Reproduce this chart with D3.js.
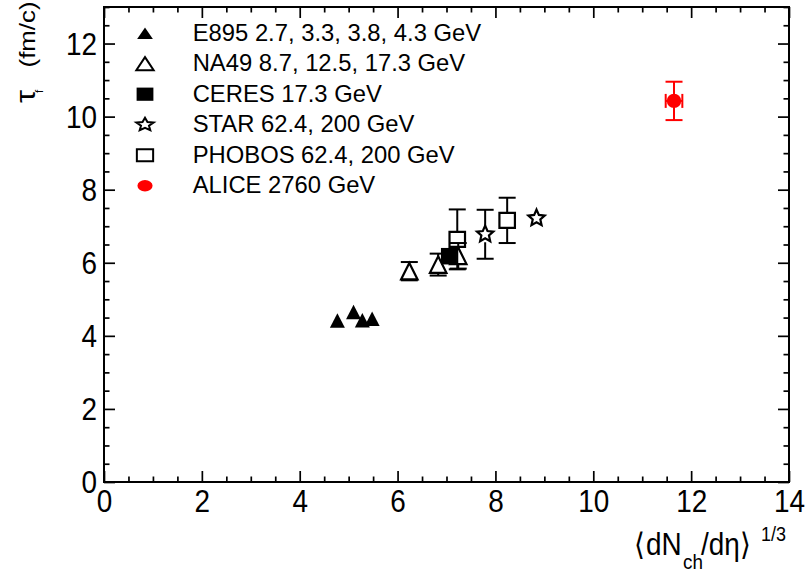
<!DOCTYPE html>
<html>
<head>
<meta charset="utf-8">
<script src="https://cdn.jsdelivr.net/npm/d3@7"></script>
<style>
  body { margin: 0; background: #fff; }
  svg { display: block; font-family: "Liberation Sans", Arial, Helvetica, "DejaVu Sans", sans-serif; }
</style>
</head>
<body>
<div id="chart"></div>
<script>
// values
const e895X = [4.77, 5.10, 5.28, 5.48]
const e895Y = [4.42, 4.65, 4.43, 4.47]

const na49X = [6.24, 6.83, 7.24]
const na49Y = [5.77, 5.95, 6.19]
const na49Err = [0.25, 0.30, 0.35]

const ceresX = [7.05]
const ceresY = [6.18]

const starX = [7.79, 8.84]
const starY = [6.78, 7.22]
const starErr = [0.67, 0]

const phobosX = [7.22, 8.24]
const phobosY = [6.64, 7.16]
const phobosErr = [0.82, 0.62]

const aliceX = [11.65]
const aliceY = [10.43]
const aliceErr = [0.525]
const aliceXErr = [0.17]

const legendLabels = [
  'E895 2.7, 3.3, 3.8, 4.3 GeV',
  'NA49 8.7, 12.5, 17.3 GeV',
  'CERES 17.3 GeV',
  'STAR 62.4, 200 GeV',
  'PHOBOS 62.4, 200 GeV',
  'ALICE 2760 GeV'
]

const xTicks = [0, 2, 4, 6, 8, 10, 12, 14]
const yTicks = [0, 2, 4, 6, 8, 10, 12]

var margin = { top: 7, right: 17, bottom: 92, left: 104 }
var width = 806 - margin.left - margin.right
var height = 574 - margin.top - margin.bottom

var x = d3.scaleLinear().domain([0, 14]).range([0, width])
var y = d3.scaleLinear().domain([0, 13]).range([height, 0])

var svg = d3.select('#chart').append('svg')
  .attr('width', 806)
  .attr('height', 574)

var g = svg.append('g')
  .attr('transform', 'translate(' + margin.left + ',' + margin.top + ')')

// minor ticks every 0.5
let xMinor = d3.range(0, 14.001, 0.5).filter(v => v % 2 !== 0)
let yMinor = d3.range(0, 13.001, 0.5).filter(v => v % 2 !== 0)

let axisGroup = (axis, tx, ty) => {
  let a = g.append('g')
    .attr('transform', 'translate(' + tx + ',' + ty + ')')
    .call(axis)
  a.select('.domain').remove()
  a.selectAll('line').attr('stroke', '#000').attr('stroke-width', 1.7)
  return a
}

// major ticks, inward, on all four sides
let xAx = axisGroup(d3.axisBottom(x).tickValues(xTicks).tickSize(-11).tickPadding(8), 0, height)
axisGroup(d3.axisTop(x).tickValues(xTicks).tickSize(-11).tickFormat(''), 0, 0)
let yAx = axisGroup(d3.axisLeft(y).tickValues(yTicks).tickSize(-11).tickPadding(7), 0, 0)
axisGroup(d3.axisRight(y).tickValues(yTicks).tickSize(-11).tickFormat(''), width, 0)

axisGroup(d3.axisBottom(x).tickValues(xMinor).tickSize(-5.5).tickFormat(''), 0, height)
axisGroup(d3.axisTop(x).tickValues(xMinor).tickSize(-5.5).tickFormat(''), 0, 0)
axisGroup(d3.axisLeft(y).tickValues(yMinor).tickSize(-5.5).tickFormat(''), 0, 0)
axisGroup(d3.axisRight(y).tickValues(yMinor).tickSize(-5.5).tickFormat(''), width, 0)

xAx.selectAll('text')
  .attr('font-size', 31)
  .attr('font-family', '"Liberation Sans", Arial, sans-serif')
  .attr('fill', '#000')
  .attr('transform', 'scale(0.9,1)')

yAx.selectAll('text')
  .attr('font-size', 31)
  .attr('font-family', '"Liberation Sans", Arial, sans-serif')
  .attr('fill', '#000')
  .attr('x', -7 / 0.9)
  .attr('dy', '0.35em')
  .attr('transform', 'scale(0.9,1)')

// frame
g.append('rect')
  .attr('width', width)
  .attr('height', height)
  .attr('fill', 'none')
  .attr('stroke', '#000')
  .attr('stroke-width', 2)

// marker shapes
let triPath = (w, h) => 'M0,' + (-h / 2) + 'L' + (w / 2) + ',' + (h / 2) + 'L' + (-w / 2) + ',' + (h / 2) + 'Z'
let sqPath = (w, h) => 'M' + (-w / 2) + ',' + (-h / 2) + 'h' + w + 'v' + h + 'h' + (-w) + 'Z'
let starPath = (ro, ri) => {
  let p = []
  for (let i = 0; i < 10; i++) {
    let r = i % 2 ? ri : ro
    let a = -Math.PI / 2 + i * Math.PI / 5
    p.push((r * Math.cos(a)).toFixed(2) + ',' + (r * Math.sin(a)).toFixed(2))
  }
  return 'M' + p.join('L') + 'Z'
}

let markers = {
  fullTri: { d: triPath(15, 14.5), h: 14.5, open: false },
  openTri: { d: triPath(16.5, 16.5), h: 16.5, open: true },
  fullSq: { d: sqPath(16, 16.5), h: 16.5, open: false },
  openSq: { d: sqPath(15.5, 15), h: 15, open: true },
  star: { d: starPath(8.6, 4), h: 16, open: true },
  circle: { d: d3.symbol(d3.symbolCircle, Math.PI * 7.2 * 7.2)(), h: 14.4, open: false }
}

let drawSeries = (xs, ys, errs, m, color) => {
  let pts = xs.map((v, i) => ({ x: v, y: ys[i], e: errs ? errs[i] : 0 }))
  let s = g.append('g')
  let cap = 8.5
  pts.filter(d => d.e > 0).forEach(d => {
    let cx = x(d.x), cy = y(d.y)
    let top = y(d.y + d.e), bot = y(d.y - d.e)
    let gap = m.open ? m.h / 2 : 0
    let segs = []
    if (cy - top > gap) segs.push([top, cy - gap], [top, top, 'cap'])
    if (bot - cy > gap) segs.push([cy + gap, bot], [bot, bot, 'cap'])
    segs.forEach(sg => {
      s.append('line')
        .attr('x1', sg[2] ? cx - cap : cx)
        .attr('x2', sg[2] ? cx + cap : cx)
        .attr('y1', sg[0])
        .attr('y2', sg[1])
        .attr('stroke', color)
        .attr('stroke-width', 2)
    })
  })
  s.selectAll('.pt')
    .data(pts)
    .enter().append('path')
    .attr('class', 'pt')
    .attr('d', m.d)
    .attr('transform', d => 'translate(' + x(d.x) + ',' + y(d.y) + ')')
    .attr('fill', m.open ? 'none' : color)
    .attr('stroke', color)
    .attr('stroke-width', m.open ? 2.2 : 0)
    .attr('stroke-linejoin', 'miter')
  return s
}

drawSeries(e895X, e895Y, null, markers.fullTri, '#000')
drawSeries(na49X, na49Y, na49Err, markers.openTri, '#000')
drawSeries(ceresX, ceresY, null, markers.fullSq, '#000')
drawSeries(starX, starY, starErr, markers.star, '#000')
drawSeries(phobosX, phobosY, phobosErr, markers.openSq, '#000')

// ALICE with x and y errors
let aliceG = drawSeries(aliceX, aliceY, aliceErr, markers.circle, '#ff0000')
aliceX.forEach((v, i) => {
  let cx = x(v), cy = y(aliceY[i])
  let l = x(v - aliceXErr[i]), r = x(v + aliceXErr[i])
  aliceG.insert('line', '.pt').attr('x1', l).attr('x2', r).attr('y1', cy).attr('y2', cy)
    .attr('stroke', '#ff0000').attr('stroke-width', 2)
  ;[l, r].forEach(px => {
    aliceG.append('line').attr('x1', px).attr('x2', px).attr('y1', cy - 7).attr('y2', cy + 7)
      .attr('stroke', '#ff0000').attr('stroke-width', 2)
  })
})

// legend
let legendMarkers = [markers.fullTri, markers.openTri, markers.fullSq, markers.star, markers.openSq, markers.circle]
let legendColors = ['#000', '#000', '#000', '#000', '#000', '#ff0000']
let legend = svg.append('g')
legendLabels.forEach((t, i) => {
  let base = 40.7 + i * 30.5
  let m = legendMarkers[i]
  legend.append('path')
    .attr('d', m.d)
    .attr('transform', 'translate(145,' + (base - 7.5) + ') scale(1.05,0.8)')
    .attr('fill', m.open ? 'none' : legendColors[i])
    .attr('stroke', legendColors[i])
    .attr('stroke-width', m.open ? 2 : 0)
    .attr('vector-effect', 'non-scaling-stroke')
  legend.append('text')
    .attr('x', 192.7)
    .attr('y', base)
    .attr('font-size', 23.8)
    .attr('fill', '#000')
    .text(t)
})

// axis titles
let piece = (str, px, py, size) => svg.append('text')
  .attr('transform', 'translate(' + px + ',' + py + ') scale(0.9,1)')
  .attr('font-size', size)
  .attr('fill', '#000')
  .text(str)

piece('\u27E8', 634, 555, 31).attr('font-family', '"DejaVu Sans", sans-serif')
piece('dN', 646, 555, 31)
piece('ch', 683, 569, 21)
piece('/d\u03B7', 701, 555, 31)
piece('\u27E9', 740, 555, 31).attr('font-family', '"DejaVu Sans", sans-serif')
piece('1/3', 761, 541, 20)

let yTitle = svg.append('text')
  .attr('transform', 'translate(35,103) rotate(-90) scale(1,0.85)')
  .attr('font-size', 33)
  .attr('fill', '#000')
yTitle.append('tspan').text('\u03C4')
yTitle.append('tspan').attr('font-size', 12).attr('dy', 9).attr('dx', -3).text('f')

svg.append('text')
  .attr('transform', 'translate(35,1.5) rotate(-90) scale(1,0.82)')
  .attr('text-anchor', 'end')
  .attr('font-size', 25.8)
  .attr('fill', '#000')
  .text('(fm/c)')
</script>
</body>
</html>
